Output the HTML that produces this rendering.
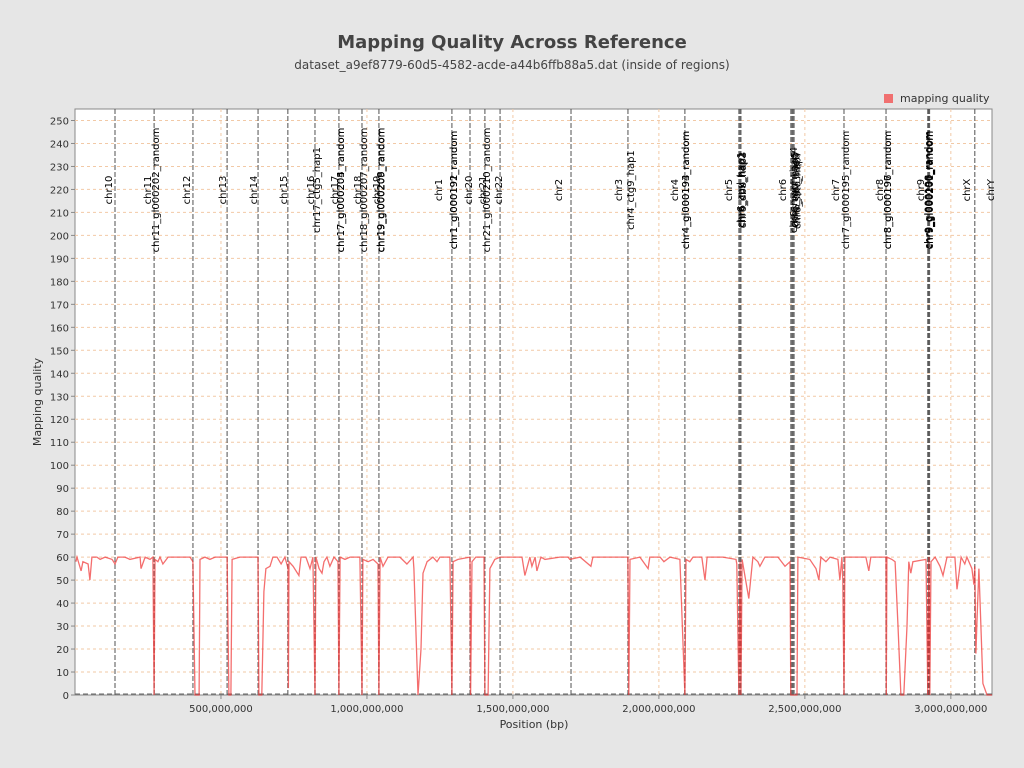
<!DOCTYPE html>
<html><head><meta charset="utf-8"><style>
body{margin:0;background:#e6e6e6;font-family:"DejaVu Sans","Liberation Sans",sans-serif;}
#wrap{position:relative;width:1024px;height:768px;}
svg{position:absolute;left:0;top:0}
</style></head><body>
<div id="wrap">
<svg id="chart" width="1024" height="768" font-family="DejaVu Sans, Liberation Sans, sans-serif">
<text x="512" y="48" text-anchor="middle" font-size="18" font-weight="bold" fill="#444">Mapping Quality Across Reference</text>
<text x="512" y="69" text-anchor="middle" font-size="12" fill="#444">dataset_a9ef8779-60d5-4582-acde-a44b6ffb88a5.dat (inside of regions)</text>
<rect x="884" y="94" width="9" height="9" fill="#f07070"/>
<text x="900" y="102" font-size="11" fill="#333">mapping quality</text>
<text x="41" y="402" transform="rotate(-90 41 402)" text-anchor="middle" font-size="11" fill="#333">Mapping quality</text>
<text x="534" y="728" text-anchor="middle" font-size="11" fill="#333">Position (bp)</text>
</svg></div>
<script>
const yTicks=[0,10,20,30,40,50,60,70,80,90,100,110,120,130,140,150,160,170,180,190,200,210,220,230,240,250];
const xTicks=[500e6,1000e6,1500e6,2000e6,2500e6,3000e6];
const xTickLabels=["500,000,000","1,000,000,000","1,500,000,000","2,000,000,000","2,500,000,000","3,000,000,000"];
const boundaries=[137,271,404,521,627,729,822,904,983,1041,1291,1353,1404,1456,1699,1894,2089,2274,2278,2281,2452,2456,2459,2463,2634,2778,2921,2923,2925,2927,3082];
const labelPos=[113,247,274,380,503,610,712,805,825,887,908,908,966,986,1031,1045,1046,1243,1295,1295,1346,1394,1408,1449,1654,1860,1901,2052,2089,2089,2236,2278,2281,2285,2421,2460,2463,2468,2472,2603,2637,2754,2781,2781,2894,2920,2922,2924,2926,3052,3134];
const labelText=["chr10","chr11","chr11_gl000202_random","chr12","chr13","chr14","chr15","chr16","chr17_ctg5_hap1","chr17","chr17_gl000204_random","chr17_gl000205_random","chr18","chr18_gl000207_random","chr19","chr19_gl000208_random","chr19_gl000209_random","chr1","chr1_gl000191_random","chr1_gl000192_random","chr20","chr21","chr21_gl000210_random","chr22","chr2","chr3","chr4_ctg9_hap1","chr4","chr4_gl000193_random","chr4_gl000194_random","chr5","chr6_apd_hap1","chr6_cox_hap2","chr6_dbb_hap3","chr6","chr6_mann_hap4","chr6_mcf_hap5","chr6_qbl_hap6","chr6_ssto_hap7","chr7","chr7_gl000195_random","chr8","chr8_gl000196_random","chr8_gl000197_random","chr9","chr9_gl000198_random","chr9_gl000199_random","chr9_gl000200_random","chr9_gl000201_random","chrX","chrY"];
const posMbp=[3,7,21,27,45,51,58,75,86,103,127,137,147,171,188,223,226,240,257,267,271,274,284,291,301,319,394,404,411,425,428,445,462,480,521,527,534,538,565,599,627,630,640,647,654,668,678,692,706,719,730,731,733,747,767,774,791,805,815,822,825,836,846,853,863,873,887,901,904,908,925,942,976,983,986,1004,1021,1038,1041,1045,1055,1072,1096,1113,1137,1158,1161,1175,1185,1192,1206,1226,1240,1250,1284,1291,1295,1312,1353,1355,1360,1373,1401,1404,1415,1421,1438,1456,1524,1531,1541,1558,1565,1576,1582,1596,1610,1661,1689,1695,1730,1767,1774,1894,1897,1901,1935,1963,1969,2004,2017,2038,2072,2089,2093,2106,2117,2147,2158,2165,2219,2264,2267,2274,2278,2281,2285,2308,2322,2339,2346,2363,2408,2432,2449,2452,2459,2473,2476,2517,2538,2548,2555,2572,2586,2613,2620,2627,2630,2634,2637,2654,2682,2709,2719,2726,2778,2779,2781,2798,2809,2819,2829,2839,2850,2856,2863,2870,2915,2921,2925,2928,2932,2946,2963,2973,2987,3014,3021,3035,3048,3055,3072,3079,3082,3086,3089,3096,3103,3110,3124,3141];
const mapq=[58,60,54,58,57,50,60,60,59,60,59,57,60,60,59,60,55,60,59,60,0,59,58,60,57,60,60,58,0,0,59,60,59,60,60,0,0,59,60,60,60,0,0,45,55,56,60,60,57,60,55,3,58,56,52,60,60,55,60,0,60,55,53,58,60,56,60,58,0,60,59,60,60,0,59,58,59,57,0,60,56,60,60,60,57,60,55,0,20,53,58,60,58,60,60,0,58,59,60,0,58,60,60,0,0,55,59,60,60,60,52,60,56,60,54,60,59,60,60,59,60,56,60,60,0,59,60,55,60,60,58,60,59,0,59,58,60,60,50,60,60,59,57,0,58,0,59,42,60,58,56,60,60,56,58,0,0,0,60,59,55,50,60,58,60,59,50,60,50,0,60,60,60,60,54,60,60,0,60,59,58,30,0,0,30,58,53,58,59,0,60,0,58,60,56,52,60,60,46,60,57,60,55,48,56,18,30,55,30,5,0,0];
const L=75,R=992,T=109,B=695,XMAX=3141e6,YMAX=255;
const xs=v=>L+v/XMAX*(R-L), ys=v=>B-v/YMAX*(B-T);
const svg=document.getElementById('chart');const NS='http://www.w3.org/2000/svg';
function mk(t,a,p){const e=document.createElementNS(NS,t);for(const k in a)e.setAttribute(k,a[k]);(p||svg).appendChild(e);return e;}
const plot=mk('rect',{x:L,y:T,width:R-L,height:B-T,fill:'#fff',stroke:'#888','stroke-width':1});


const g=mk('g',{});


yTicks.forEach(v=>{const y=ys(v);
 if(v>0){const l=mk('line',{x1:L,x2:R,y1:y,y2:y,stroke:'#f2c9a6','stroke-width':1,'stroke-dasharray':'3,3'},g);
 
 }
 const tk=mk('line',{x1:L-4,x2:L,y1:y,y2:y,stroke:'#888'});
 
 
 const t=mk('text',{x:L-6,y:y+4,'text-anchor':'end','font-size':10,fill:'#333'});t.textContent=v;
 
 });
xTicks.forEach((v,i)=>{const x=xs(v);
 const l=mk('line',{x1:x,x2:x,y1:T,y2:B,stroke:'#f2c9a6','stroke-width':1,'stroke-dasharray':'3,3'},g);
 
 
 const tk=mk('line',{x1:x,x2:x,y1:B,y2:B+4,stroke:'#888'});
 
 
 const t=mk('text',{x:x,y:B+17,'text-anchor':'middle','font-size':10,fill:'#333'});t.textContent=xTickLabels[i];
 
 });
boundaries.forEach(b=>{const x=xs(b*1e6);
 const l=mk('line',{x1:x,x2:x,y1:T,y2:B,stroke:'#555','stroke-width':1.2,'stroke-dasharray':'5,2','stroke-opacity':0.85});
 
 });
const bl=mk('line',{x1:L,x2:R,y1:B-1,y2:B-1,stroke:'#666','stroke-width':1,'stroke-dasharray':'5,3'});


labelPos.forEach((p,i)=>{const x=xs(p*1e6)+4;const y=190;
 const t=mk('text',{x:x,y:y,'text-anchor':'middle','font-size':10,fill:'#000',transform:`rotate(-90 ${x} ${y})`});t.textContent=labelText[i];
 
 });
const pts=posMbp.map((p,i)=>xs(p*1e6).toFixed(1)+','+ys(mapq[i]).toFixed(1)).join(' ');
const line=mk('polyline',{points:pts,fill:'none',stroke:'#f03030','stroke-opacity':0.7,'stroke-width':1.3});


</script>
</body></html>
